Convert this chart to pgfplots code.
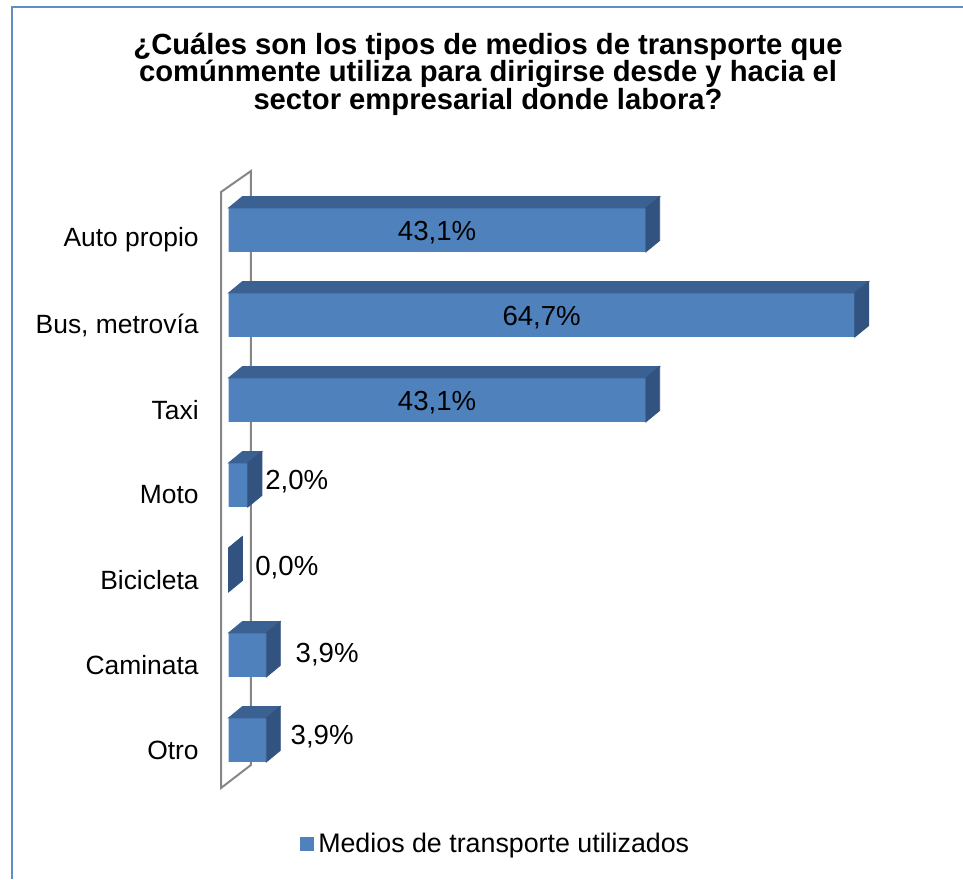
\documentclass[border=0pt]{standalone}
\usepackage{fontspec}
\setmainfont{Liberation Sans}
\usepackage{pgfplots}
\usepackage{pgfplotstable}
\pgfplotsset{compat=1.18}
\pgfkeys{/pgf/number format/assume math mode=true}

\definecolor{BarFront}{RGB}{79,129,189}
\definecolor{BarTop}{RGB}{59,97,147}
\definecolor{BarSide}{RGB}{50,83,128}
\definecolor{WallGray}{RGB}{134,134,134}
\definecolor{FrameBlue}{RGB}{98,140,200}

\newcommand\lblfont{\fontsize{13.2}{15}\selectfont}
\newcommand\valfont{\fontsize{13.8}{15}\selectfont}

% y: category position (Auto propio on top), v: percent, lx/ly: label nudge (pt)
\pgfplotstableread{
y v lx ly
6 43.1 0 0
5 64.7 0 0
4 43.1 0 0
3 2.0 8.5 1.5
2 0.0 13.25 1
1 3.9 14.5 0
0 3.9 12 1.5
}\transporte

\begin{document}
\begin{tikzpicture}
% frame of the chart area (cut by the page on the right and bottom)
\draw[FrameBlue,line width=1pt] (481.5pt,435.75pt) -- (5.75pt,435.75pt) -- (5.75pt,0pt);

\node[font=\bfseries\fontsize{14.6}{13.8}\selectfont,align=center] at (244pt,402.5pt)
  {¿Cuáles son los tipos de medios de transporte que\\
   comúnmente utiliza para dirigirse desde y hacia el\\
   sector empresarial donde labora?};

\begin{axis}[
  at={(110.5pt,354.25pt)}, anchor=north west,
  width=359.5pt, height=314.5pt, scale only axis,
  xmin=-0.775, xmax=73.5, ymin=-0.7, ymax=6.7,
  axis line style={draw=none},
  major tick length=0pt,
  xtick=\empty,
  ytick={0,...,6},
  yticklabels={Otro,Caminata,Bicicleta,Moto,Taxi,{Bus, metrovía},Auto propio},
  yticklabel style={anchor=east,inner sep=0pt,xshift=-11pt,yshift=-5pt,font=\lblfont},
  clip=false,
  legend style={at={(0.1097,-0.0705)},anchor=west,draw=none,fill=none,
    inner sep=0pt,font=\fontsize{13.4}{15}\selectfont},
  legend cell align=left,
]
% left wall
\draw[WallGray,line width=1pt] (axis cs:-0.775,6.447) -- (axis cs:2.32,6.694)
  -- (axis cs:2.32,-0.294) -- (axis cs:-0.775,-0.565) -- cycle;

% top and side faces of the 3D bars
\addplot[scatter, only marks, mark=*, mark size=0pt,
  mark options={draw=none,fill=none}, forget plot,
  visualization depends on={\thisrow{v} \as \val},
  scatter/@pre marker code/.code={
    \fill[BarTop] (0pt,11pt) -- ({-\val*4.84pt},11pt)
      -- ({7pt-\val*4.84pt},16.75pt) -- (7pt,16.75pt) -- cycle;
    \fill[BarSide] (0pt,-11pt) -- (0pt,11pt) -- (7pt,16.75pt)
      -- (7pt,-5.25pt) -- cycle;
  },
  scatter/@post marker code/.code={},
] table[x=v,y=y] {\transporte};

% front faces
\addplot[xbar, bar width=22pt, bar shift=0pt, fill=BarFront, draw=none,
  legend image code/.code={\fill[BarFront] (0pt,-3.5pt) rectangle (7pt,3.5pt);},
] table[x=v,y=y] {\transporte};
\addlegendentry{Medios de transporte utilizados}

% labels inside the long bars
\addplot[only marks, mark=none, forget plot, point meta=\thisrow{v},
  restrict expr to domain={\thisrow{v}}{10:100},
  nodes near coords={\pgfmathprintnumber[fixed,fixed zerofill,precision=1,use comma]{\pgfplotspointmeta}\%},
  every node near coord/.append style={anchor=center,yshift=-1.5pt,font=\valfont},
] table[x expr=\thisrow{v}/2,y=y] {\transporte};

% labels beside the short bars
\addplot[only marks, mark=none, forget plot, point meta=\thisrow{v},
  restrict expr to domain={\thisrow{v}}{-1:10},
  visualization depends on={\thisrow{lx} \as \lx},
  visualization depends on={\thisrow{ly} \as \ly},
  nodes near coords={\pgfmathprintnumber[fixed,fixed zerofill,precision=1,use comma]{\pgfplotspointmeta}\%},
  every node near coord/.append style={anchor=west,inner sep=0pt,
    xshift=\lx pt,yshift=\ly pt,font=\valfont},
] table[x=v,y=y] {\transporte};
\end{axis}

\pgfresetboundingbox
\useasboundingbox (0pt,0pt) rectangle (481.5pt,439.5pt);
\end{tikzpicture}
\end{document}
